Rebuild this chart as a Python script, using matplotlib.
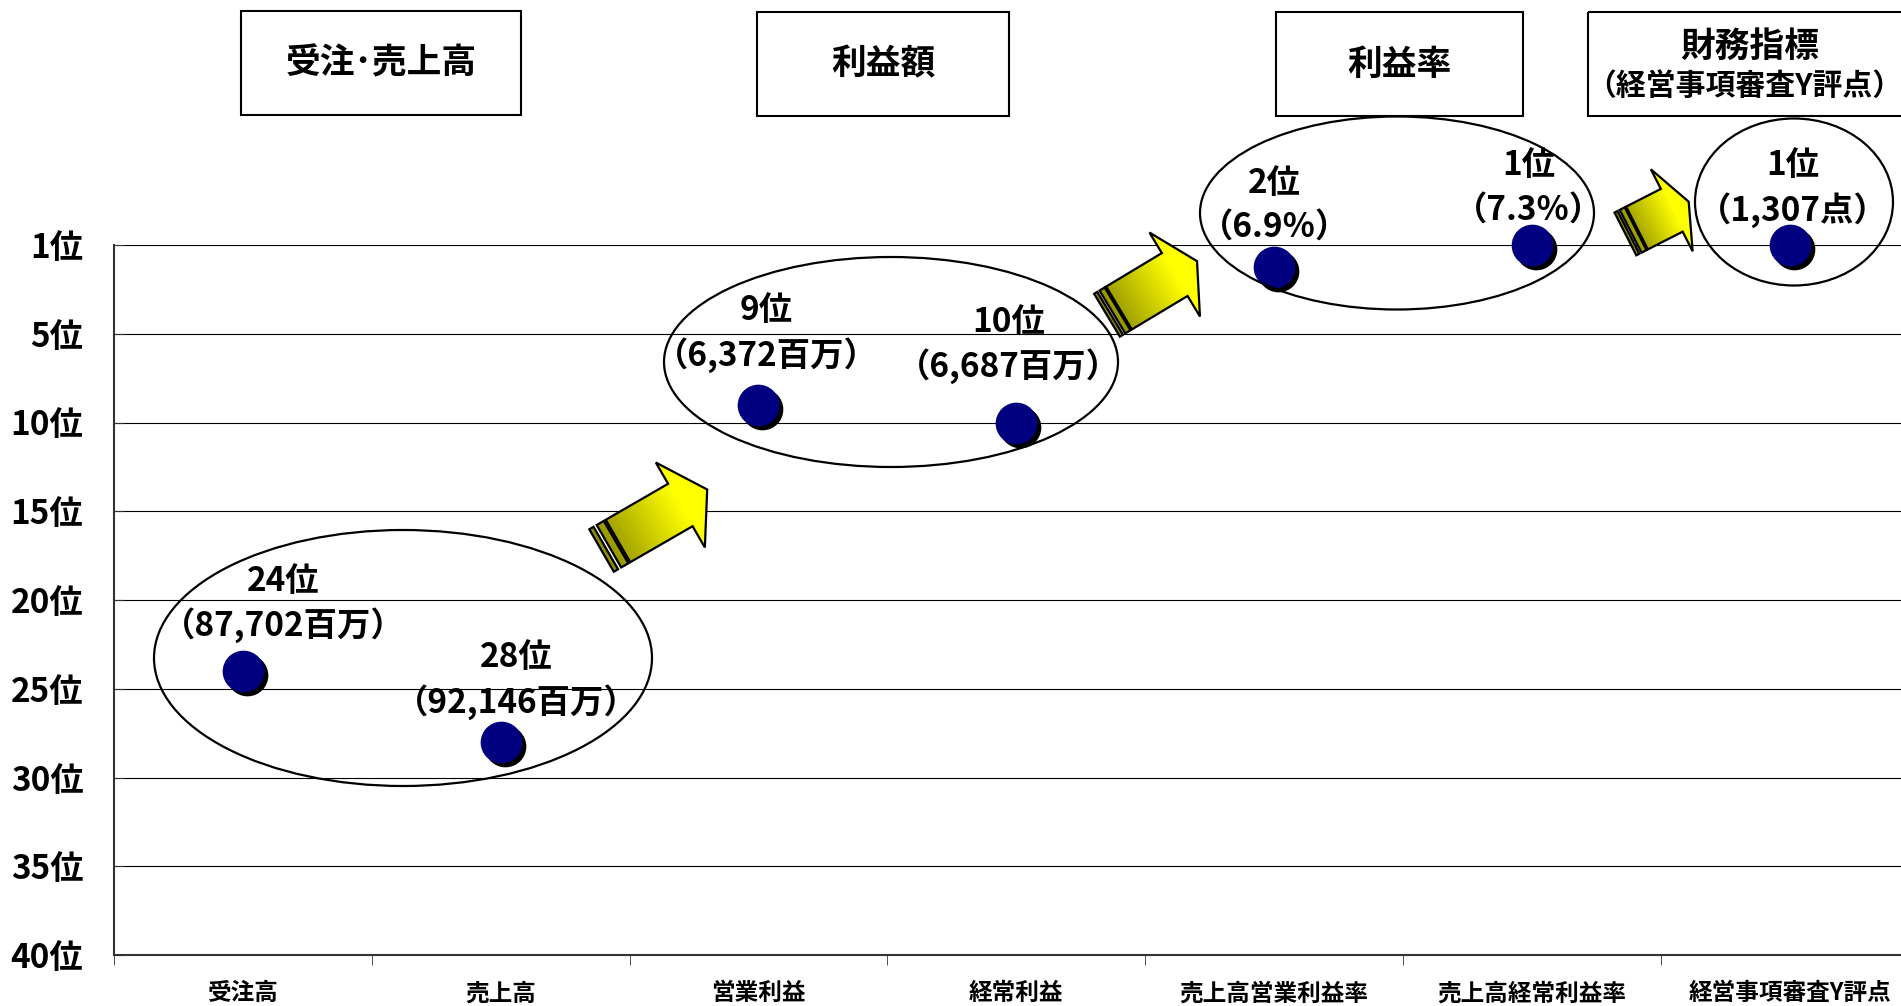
import numpy as np
import matplotlib
matplotlib.use('Agg')
import matplotlib.pyplot as plt
from matplotlib.patches import Ellipse, Rectangle, PathPatch
from matplotlib.path import Path
from matplotlib.transforms import Affine2D, offset_copy

plt.rcParams['font.family'] = ['Noto Sans CJK JP', 'DejaVu Sans']

# data
categories = ['受注高', '売上高', '営業利益', '経常利益',
              '売上高営業利益率', '売上高経常利益率', '経営事項審査Y評点']
ranks = [24, 28, 9, 10, 2, 1, 1]
values = ['87,702百万', '92,146百万', '6,372百万', '6,687百万',
          '6.9%', '7.3%', '1,307点']
rank_ticks = [1, 5, 10, 15, 20, 25, 30, 35, 40]
rank_ticklabels = [f'{r}位' for r in rank_ticks]
group_titles = ['受注･売上高', '利益額', '利益率']
last_title = ['財務指標', '（経営事項審査Y評点）']

# layout (pixels)
W, H = 1901, 1006
label_dx = [40, 16, 8, -8, 0, -3, 3]
label_dy = [90, 84, 94, 100, 84, 79, 79]
boxes = [(241, 11, 521, 115), (757, 12, 1009, 116), (1276, 12, 1523, 116)]
last_box = (1588, 12, 1915, 116)
ellipses = [(403, 658, 498, 256), (891, 362, 454, 210),
            (1397, 213, 394, 193), (1794, 202, 198, 167)]
# cx, cy, angle, body length, head length, head half width, body half width, stripes
arrows = [(618, 541, 30, 72, 31, 49, 24.5, 19),
          (1119, 308, 31, 65, 26, 49, 25, 14),
          (1637, 228, 27, 39, 19, 46, 24, 13)]

fig = plt.figure(figsize=(W / 100, H / 100), dpi=100)
ax = fig.add_axes([114 / W, (H - 955) / H, (1918.6 - 114) / W, (955 - 245) / H])

# rank axis: equal spacing between 1,5,10,...,40
pos = np.arange(len(rank_ticks))
ax.set_yscale('function', functions=(lambda v: np.interp(v, rank_ticks, pos),
                                     lambda p: np.interp(p, pos, rank_ticks)))
ax.set_ylim(40, 1)
ax.set_xlim(-0.5, len(categories) - 0.5)

x = np.arange(len(categories))
shadow = offset_copy(ax.transData, fig=fig, x=4, y=-4, units='dots')
ax.plot(x, ranks, 'o', color='black', ms=29, ls='none', transform=shadow,
        clip_on=False, zorder=3)
ax.plot(x, ranks, 'o', color='#000080', ms=29, ls='none', clip_on=False, zorder=4)

for i, (r, v) in enumerate(zip(ranks, values)):
    ax.annotate(f'{r}位', (i, r), xytext=(label_dx[i], label_dy[i]),
                textcoords='offset pixels', ha='center', va='center',
                fontsize=24, fontweight='bold', annotation_clip=False)
    ax.annotate(f'（{v}）', (i, r), xytext=(label_dx[i], label_dy[i] - 44),
                textcoords='offset pixels', ha='center', va='center',
                fontsize=24, fontweight='bold', annotation_clip=False)

ax.set_yticks(rank_ticks)
ax.set_yticklabels(rank_ticklabels, fontsize=24, fontweight='bold')
ax.yaxis.grid(True, color='black', lw=0.8)
ax.tick_params(axis='y', direction='in', length=7, color='#333333', pad=22)

ax.set_xticks(x)
ax.set_xticklabels(categories, fontsize=17, fontweight='bold')
ax.set_xticks(np.arange(-0.5, len(categories), 1), minor=True)
ax.tick_params(axis='x', which='major', length=0, pad=19)
ax.tick_params(axis='x', which='minor', direction='out', length=7, color='#333333')

for s in ['top', 'right']:
    ax.spines[s].set_visible(False)
for s in ['left', 'bottom']:
    ax.spines[s].set_color('#333333')
    ax.spines[s].set_linewidth(1.5)

# overlay in pixel coordinates
ov = fig.add_axes([0, 0, 1, 1], facecolor='none')
ov.set_xlim(0, W)
ov.set_ylim(H, 0)
ov.set_autoscale_on(False)
ov.axis('off')

for (x0, y0, x1, y1), t in zip(boxes, group_titles):
    ov.add_patch(Rectangle((x0, y0), x1 - x0, y1 - y0, fill=False, ec='black', lw=1.5))
    ov.text((x0 + x1) / 2, (y0 + y1) / 2, t, ha='center', va='center',
            fontsize=25, fontweight='bold')
x0, y0, x1, y1 = last_box
ov.add_patch(Rectangle((x0, y0), x1 - x0, y1 - y0, fill=False, ec='black', lw=1.5))
ov.text(1750, 46, last_title[0], ha='center', va='center', fontsize=25, fontweight='bold')
ov.text(1744, 86, last_title[1], ha='center', va='center', fontsize=21.5, fontweight='bold')

for cx, cy, w, h in ellipses:
    ov.add_patch(Ellipse((cx, cy), w, h, fill=False, ec='black', lw=1.6))


def draw_arrow(cx, cy, ang, body, head, hw, bw, s):
    tr = Affine2D().rotate_deg(-ang).translate(cx, cy) + ov.transData
    polys = [
        [(0, -bw), (body, -bw), (body, -hw), (body + head, 0), (body, hw), (body, bw), (0, bw), (0, -bw)],
        [(-0.55 * s, -bw), (-0.12 * s, -bw), (-0.12 * s, bw), (-0.55 * s, bw), (-0.55 * s, -bw)],
        [(-s, -bw), (-0.74 * s, -bw), (-0.74 * s, bw), (-s, bw), (-s, -bw)],
    ]
    path = Path.make_compound_path(*[Path(p, closed=True) for p in polys])
    u0, u1 = -s, body + head
    t = np.clip(np.linspace(0, 1, 200) / 0.75, 0, 1)
    grad = np.zeros((2, 200, 3))
    grad[..., 0] = 0.55 + 0.45 * t
    grad[..., 1] = 0.55 + 0.45 * t
    im = ov.imshow(grad, extent=(u0, u1, -hw, hw), transform=tr, aspect='auto',
                   interpolation='bilinear', zorder=5)
    clip = PathPatch(path, transform=tr, fc='none', ec='none')
    ov.add_patch(clip)
    im.set_clip_path(clip)
    ov.add_patch(PathPatch(path, transform=tr, fc='none', ec='black', lw=1.6, zorder=6))


for a in arrows:
    draw_arrow(*a)

fig.savefig('out.png', dpi=100)
